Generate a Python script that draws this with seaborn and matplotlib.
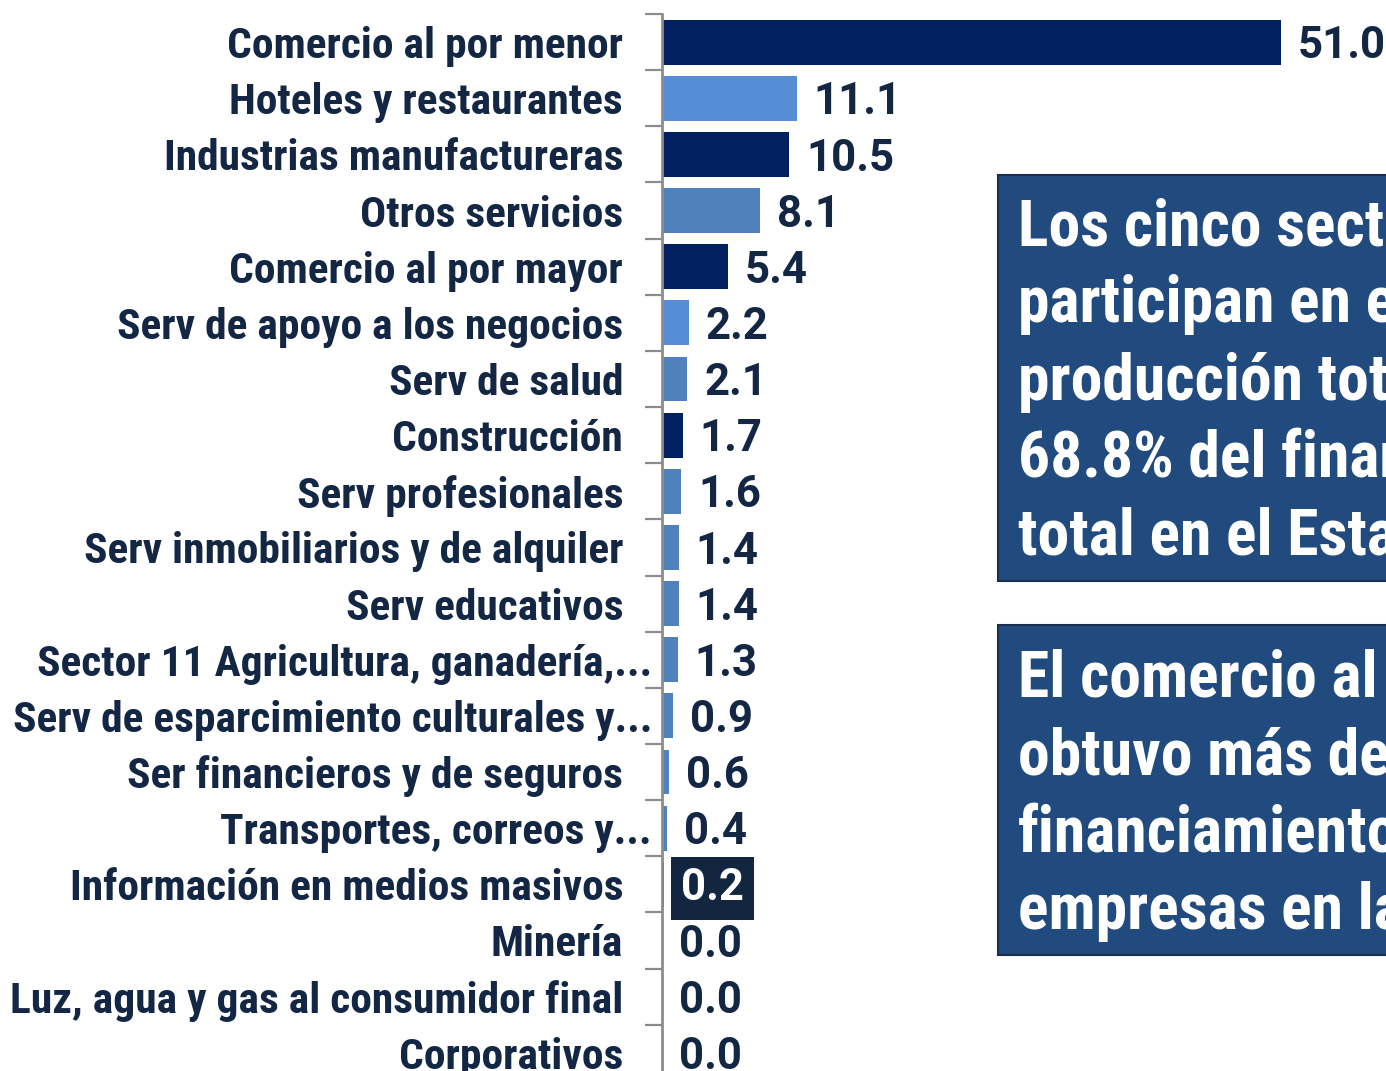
import matplotlib
matplotlib.use("Agg")
import matplotlib.pyplot as plt
import matplotlib.patches as mpatches
import seaborn as sns
import pandas as pd
from matplotlib import font_manager

categories = [
    "Comercio al por menor",
    "Hoteles y restaurantes",
    "Industrias manufactureras",
    "Otros servicios",
    "Comercio al por mayor",
    "Serv de apoyo a los negocios",
    "Serv de salud",
    "Construcción",
    "Serv profesionales",
    "Serv inmobiliarios y de alquiler",
    "Serv educativos",
    "Sector 11 Agricultura, ganadería,...",
    "Serv de esparcimiento culturales y...",
    "Ser financieros y de seguros",
    "Transportes, correos y...",
    "Información en medios masivos",
    "Minería",
    "Luz, agua y gas al consumidor final",
    "Corporativos",
]
values = [51.0, 11.1, 10.5, 8.1, 5.4, 2.2, 2.1, 1.7, 1.6, 1.4, 1.4, 1.3, 0.9, 0.6, 0.4, 0.2, 0.0, 0.0, 0.0]

DARK = "#002060"
LIGHT = "#558ED5"
MID = "#4F81BD"
bar_colors = [DARK, LIGHT, DARK, MID, DARK, LIGHT, MID, DARK, MID, MID, MID, MID, MID, MID, MID, DARK, MID, MID, MID]

box1_lines = ["Los cinco sectores", "participan en el", "producción total", "68.8% del financiamiento", "total en el Estado"]
box2_lines = ["El comercio al por menor", "obtuvo más del", "financiamiento", "empresas en la"]

sns.set_theme(style="white")

# pick a condensed family if one is installed
ttf = font_manager.fontManager.ttflist
names = {f.name for f in ttf}
cond_family, cond_stretch = None, "normal"
for nm in ["Liberation Sans Narrow", "Roboto Condensed", "Open Sans Condensed", "Noto Sans Condensed"]:
    if nm in names:
        cond_family = nm
        break
if cond_family is None:
    for f in ttf:
        if f.stretch in ("condensed", "semi-condensed") and f.name in ("DejaVu Sans", "Noto Sans", "Open Sans", "Roboto", "Inter"):
            cond_family, cond_stretch = f.name, f.stretch
            break
if cond_family is None:
    cond_family = "Roboto"
plt.rcParams["font.family"] = [cond_family, "DejaVu Sans"]
plt.rcParams["font.stretch"] = cond_stretch

TEXT = "#132744"
W, H = 1386, 1071
fig = plt.figure(figsize=(W / 100, H / 100), dpi=100)
fig.patch.set_facecolor("white")

top_px, row_px = 14, 56.15
n = len(categories)
ax_h = n * row_px
ax_left = 662 / W
ax = fig.add_axes([ax_left, 1 - (top_px + ax_h) / H, 1 - ax_left, ax_h / H])

df = pd.DataFrame({"cat": categories, "val": values})
sns.barplot(data=df, x="val", y="cat", hue="cat", palette=bar_colors, order=categories,
            hue_order=categories, orient="h", width=0.8, legend=False, ax=ax,
            saturation=1, edgecolor="none")

ax.set_xlim(0, 51.0 * 724 / 619)
ax.set_ylim(n - 0.5, -0.5)
ax.set_xlabel("")
ax.set_ylabel("")
ax.set_xticks([])
for s in ["top", "right", "bottom"]:
    ax.spines[s].set_visible(False)
ax.spines["left"].set_color("#8C8C8C")
ax.spines["left"].set_linewidth(2)

# fit label size: "Comercio al por menor" spans ~405 px, longest label ~637 px in the reference
renderer = fig.canvas.get_renderer()
def width_at(txt, size):
    p = fig.text(0, 0, txt, fontsize=size, fontweight="bold")
    w = p.get_window_extent(renderer).width
    p.remove()
    return w
lab_size = min(34, 30 * 405 / width_at(categories[0], 30), 30 * 640 / width_at(categories[12], 30))

ax.set_yticks(range(n))
ax.set_yticklabels(categories, fontsize=lab_size, fontweight="bold", color=TEXT)
ax.tick_params(axis="y", which="major", length=0, pad=28)
ax.set_yticks([i - 0.5 for i in range(n)], minor=True)
ax.tick_params(axis="y", which="minor", length=12, width=1.6, color="#8C8C8C", left=True)
for lab in ax.get_yticklabels():
    if lab.get_text().endswith("..."):
        lab.set_x(0.04)

for i, (cont, v) in enumerate(zip(ax.containers, values)):
    kw = dict(labels=[f"{v:.1f}"], padding=12, fontsize=31.5, fontweight="bold",
              family=["Roboto", "DejaVu Sans"], fontstretch="normal")
    if i == 15:
        anns = ax.bar_label(cont, color="white",
                            bbox=dict(boxstyle="square,pad=0.24", fc="#13263F", ec="none"), **kw)
    else:
        anns = ax.bar_label(cont, color=TEXT, **kw)
    for a in anns:
        a.xyann = (12, -3)

BOX = "#214A7E"
box_size = 43 * 360 / width_at("El comercio al", 43)
box_size = min(box_size, 48)
def draw_box(y0, y1, lines, first_base, step):
    r = mpatches.Rectangle((998 / W, 1 - y1 / H), 600 / W, (y1 - y0) / H, transform=fig.transFigure,
                           fc=BOX, ec="#1A2F4F", lw=1.5, clip_on=False)
    fig.patches.append(r)
    for k, t in enumerate(lines):
        fig.text(1018 / W, 1 - (first_base + k * step) / H, t, fontsize=box_size, fontweight="bold",
                 color="white", ha="left", va="baseline")

draw_box(175, 581, box1_lines, 245, 77.3)
draw_box(625, 955, box2_lines, 697, 77.3)

fig.savefig("out.png", dpi=100, facecolor="white")
